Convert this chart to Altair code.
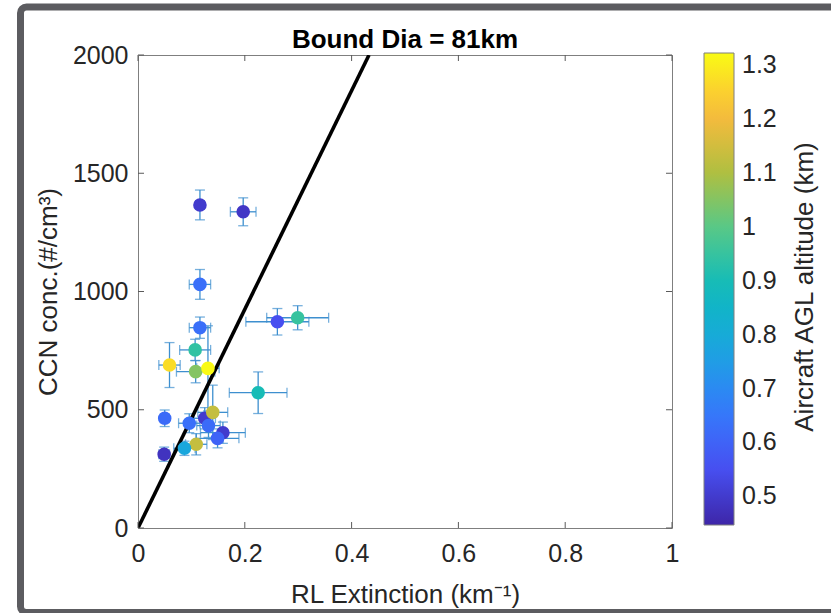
import altair as alt
import pandas as pd

# ---- data ----
ext = [0.116, 0.197, 0.116, 0.116, 0.261, 0.299, 0.107, 0.059, 0.108, 0.131, 0.225,
       0.050, 0.096, 0.125, 0.140, 0.132, 0.159, 0.149, 0.109, 0.087, 0.049]
ccn = [1366, 1337, 1030, 847, 872, 889, 753, 689, 661, 675, 572,
       464, 443, 464, 489, 433, 403, 379, 354, 337, 312]
agl = [0.50, 0.49, 0.63, 0.63, 0.55, 0.95, 0.94, 1.27, 1.05, 1.32, 0.90,
       0.62, 0.63, 0.50, 1.13, 0.62, 0.50, 0.60, 1.13, 0.78, 0.48]
ext_err = [0.008, 0.024, 0.020, 0.020, 0.059, 0.058, 0.029, 0.020, 0.036, 0.021, 0.054,
           0.008, 0.020, 0.020, 0.028, 0.022, 0.042, 0.040, 0.020, 0.020, 0.010]
ccn_err = [63, 59, 63, 45, 56, 51, 45, 95, 47, 180, 88,
           35, 40, 45, 115, 50, 45, 40, 45, 30, 30]

fit_x = [0.0, 0.4326]
fit_y = [0, 2000]

x_ticks = [0, 0.2, 0.4, 0.6, 0.8, 1]
y_ticks = [0, 500, 1000, 1500, 2000]
cbar_ticks = [0.5, 0.6, 0.7, 0.8, 0.9, 1.0, 1.1, 1.2, 1.3]

parula_domain = [0.447, 0.556, 0.666, 0.775, 0.885, 0.994, 1.103, 1.213, 1.322]
parula_range = ["#3e26a8", "#4751f4", "#337dfb", "#1aa6de", "#0dbabd",
                "#54c98a", "#b2bf3f", "#fcba3d", "#f9fb14"]

title_txt = "Bound Dia = 81km"
x_title = "RL Extinction (km⁻¹)"
y_title = "CCN conc.(#/cm³)"
c_title = "Aircraft AGL altitude (km)"

# ---- tables ----
df = pd.DataFrame(dict(ext=ext, ccn=ccn, agl=agl, xerr=ext_err, yerr=ccn_err))
df["xlo"] = df.ext - df.xerr
df["xhi"] = df.ext + df.xerr
df["ylo"] = df.ccn - df.yerr
df["yhi"] = df.ccn + df.yerr
fit = pd.DataFrame(dict(x=fit_x, y=fit_y))
xt = pd.DataFrame(dict(v=x_ticks))
yt = pd.DataFrame(dict(v=y_ticks))
one = pd.DataFrame(dict(a=[0]))

W, H = 534, 473
FONT = "Liberation Sans"
TXT = "#262626"
ERR = "#3d8fcf"

xs = alt.Scale(domain=[0, 1], nice=False, zero=False)
ys = alt.Scale(domain=[0, 2000], nice=False, zero=False)


def X(f, axis=False):
    if axis:
        return alt.X(f, type="quantitative", scale=xs, title=x_title,
                     axis=alt.Axis(values=x_ticks, format="~g", labelFontSize=25,
                                   labelPadding=13, labelFlush=False, ticks=False,
                                   domain=False, grid=False,
                                   labelColor=TXT, titleColor=TXT, titleFontSize=26,
                                   titleFontWeight="normal", titlePadding=15))
    return alt.X(f, type="quantitative", scale=xs, title=x_title)


def Y(f, axis=False):
    if axis:
        return alt.Y(f, type="quantitative", scale=ys, title=y_title,
                     axis=alt.Axis(values=y_ticks, format="d", labelFontSize=25,
                                   labelPadding=10, labelFlush=False, ticks=False,
                                   domain=False, grid=False,
                                   labelColor=TXT, titleColor=TXT, titleFontSize=26,
                                   titleFontWeight="normal", titlePadding=11))
    return alt.Y(f, type="quantitative", scale=ys, title=y_title)


frame = alt.Chart(one).mark_rect(fillOpacity=0, stroke="#5c5c60", strokeWidth=7,
                                 cornerRadius=6).encode(
    x=alt.value(-117.5), x2=alt.value(760), y=alt.value(-48), y2=alt.value(557.5))

base = alt.Chart(df)
vbar = base.mark_rule(color=ERR, strokeWidth=1.3).encode(
    x=X("ext", axis=True), y=Y("ylo", axis=True), y2="yhi")
hbar = base.mark_rule(color=ERR, strokeWidth=1.3).encode(
    x=X("xlo"), x2="xhi", y=Y("ccn"))
cap_lo = base.mark_tick(color=ERR, orient="horizontal", size=10, thickness=1.3).encode(
    x=X("ext"), y=Y("ylo"))
cap_hi = base.mark_tick(color=ERR, orient="horizontal", size=10, thickness=1.3).encode(
    x=X("ext"), y=Y("yhi"))
cap_l = base.mark_tick(color=ERR, orient="vertical", size=10, thickness=1.3).encode(
    x=X("xlo"), y=Y("ccn"))
cap_r = base.mark_tick(color=ERR, orient="vertical", size=10, thickness=1.3).encode(
    x=X("xhi"), y=Y("ccn"))

line = alt.Chart(fit).mark_line(color="black", strokeWidth=3.6, clip=True).encode(
    x=X("x"), y=Y("y"))

pts = base.mark_circle(size=185, opacity=1).encode(
    x=X("ext"), y=Y("ccn"),
    color=alt.Color("agl:Q",
                    scale=alt.Scale(domain=parula_domain, range=parula_range,
                                    interpolate="rgb"),
                    legend=alt.Legend(orient="none", legendX=566, legendY=-2,
                                      direction="vertical", gradientLength=472,
                                      gradientThickness=30, values=cbar_ticks,
                                      format="~g", labelFontSize=25, labelOffset=8,
                                      labelColor=TXT, title=None,
                                      gradientStrokeColor="#7f7f7f",
                                      gradientStrokeWidth=1)))

tick_style = dict(color="#5a5a5a", strokeWidth=1)
tb = alt.Chart(xt).mark_rule(**tick_style).encode(x=X("v"), y=alt.value(H), y2=alt.value(H - 6))
tt = alt.Chart(xt).mark_rule(**tick_style).encode(x=X("v"), y=alt.value(0), y2=alt.value(6))
tl = alt.Chart(yt).mark_rule(**tick_style).encode(y=Y("v"), x=alt.value(0), x2=alt.value(6))
tr = alt.Chart(yt).mark_rule(**tick_style).encode(y=Y("v"), x=alt.value(W), x2=alt.value(W - 6))

ctitle = alt.Chart(one).mark_text(text=c_title, angle=270, fontSize=26, font=FONT,
                                  color=TXT, align="center", baseline="alphabetic").encode(
    x=alt.value(675), y=alt.value(232))

mtitle = alt.Chart(one).mark_text(text=title_txt, fontSize=26, fontWeight="bold", font=FONT,
                                  color="black", align="center", baseline="alphabetic").encode(
    x=alt.value(W / 2), y=alt.value(-7))

chart = alt.layer(frame, vbar, hbar, cap_lo, cap_hi, cap_l, cap_r, line, pts,
                  tb, tt, tl, tr, ctitle, mtitle).properties(
    width=W, height=H,
    autosize=alt.AutoSizeParams(type="none"),
    padding={"left": 138, "top": 55, "right": 159, "bottom": 85},
    background="white",
).configure(font=FONT).configure_view(stroke="#7f7f7f", strokeWidth=1)

chart.save("out.html", embed_options={"renderer": "svg", "actions": False})
